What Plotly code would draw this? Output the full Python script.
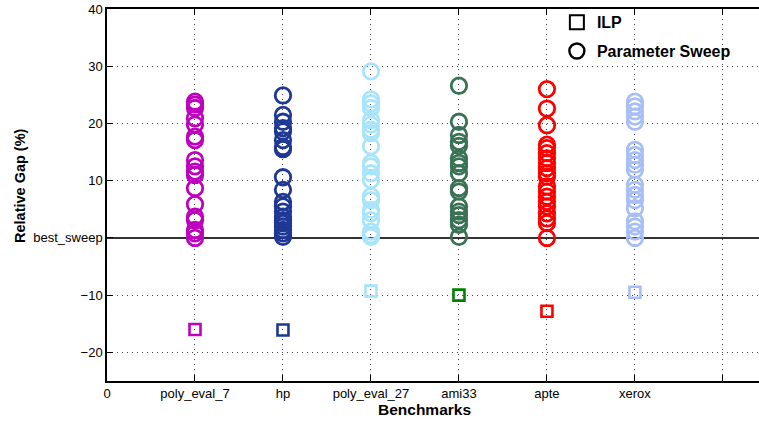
import plotly.graph_objects as go

benchmarks = ["poly_eval_7", "hp", "poly_eval_27", "ami33", "apte", "xerox"]
bench_pos = [1, 2, 3, 4, 5, 6]

sweep_poly_eval_7 = [23.8, 23.3, 22.7, 20.9, 19.8, 17.7, 17.1, 13.6, 12.5, 11.6, 11.0, 8.7, 5.9, 3.7, 3.1, 1.4, 0.8, 0.0]
sweep_hp = [24.9, 21.5, 20.3, 19.2, 18.6, 17.1, 15.9, 15.5, 10.6, 8.4, 6.3, 5.5, 4.6, 3.7, 3.1, 2.6, 2.0, 1.4, 0.8, 0.2]
sweep_poly_eval_27 = [29.1, 24.2, 23.5, 22.7, 20.6, 19.8, 18.9, 18.3, 16.0, 13.1, 12.5, 11.3, 10.1, 7.3, 6.6, 4.9, 4.3, 3.1, 1.1, 0.5, 0.2]
sweep_ami33 = [26.6, 20.3, 18.0, 16.8, 16.1, 13.9, 13.1, 12.5, 11.3, 8.7, 8.1, 5.5, 4.6, 4.0, 3.1, 2.3, 0.2]
sweep_apte = [26.0, 22.6, 19.7, 16.3, 15.7, 14.8, 13.9, 13.1, 12.2, 11.3, 10.7, 9.0, 8.1, 7.2, 6.3, 5.5, 4.3, 3.4, 2.6, 0.0]
sweep_xerox = [23.8, 23.0, 22.1, 21.2, 20.3, 15.4, 14.5, 13.6, 12.8, 11.9, 9.3, 8.4, 7.5, 6.6, 5.2, 2.9, 2.0, 1.1, 0.0]

sweep_values = [sweep_poly_eval_7, sweep_hp, sweep_poly_eval_27, sweep_ami33, sweep_apte, sweep_xerox]
ilp_values = [-16.0, -16.1, -9.3, -10.0, -12.8, -9.5]

sweep_colors = ["#BF00BF", "#1F3894", "#A8E4FA", "#3A7255", "#FF0000", "#A8BFF5"]
ilp_colors = ["#BF00BF", "#1F3894", "#A8E4FA", "#008000", "#FF0000", "#A8BFF5"]

x_tickvals = [0, 1, 2, 3, 4, 5, 6, 7]
x_ticktext = ["0"] + benchmarks + [""]
y_tickvals = [-20, -10, 0, 10, 20, 30, 40]
y_ticktext = ["\u221220", "\u221210", "best_sweep", "10", "20", "30", "40"]

fig = go.Figure()

for pos, vals, col in zip(bench_pos, sweep_values, sweep_colors):
    fig.add_trace(go.Scatter(
        x=[pos] * len(vals), y=vals, mode="markers", showlegend=False,
        marker=dict(symbol="circle-open", size=15.5, color=col, line=dict(width=2.8, color=col)),
    ))
for pos, val, col in zip(bench_pos, ilp_values, ilp_colors):
    fig.add_trace(go.Scatter(
        x=[pos], y=[val], mode="markers", showlegend=False,
        marker=dict(symbol="square-open", size=11, color=col, line=dict(width=2.6, color=col)),
    ))

fig.add_trace(go.Scatter(x=[None], y=[None], mode="markers", name="<b>ILP</b>", legendgroup="a",
                         marker=dict(symbol="square-open", size=14, color="black", line=dict(width=2, color="black"))))
fig.add_trace(go.Scatter(x=[None], y=[None], mode="markers", name="<b>Parameter Sweep</b>", legendgroup="b",
                         marker=dict(symbol="circle-open", size=15, color="black", line=dict(width=2.4, color="black"))))

font = "Liberation Sans, Arial, sans-serif"
fig.update_layout(
    width=759, height=422,
    margin=dict(l=107, r=0, t=9, b=41, autoexpand=False),
    plot_bgcolor="white", paper_bgcolor="white",
    font=dict(family=font, size=13, color="black"),
    showlegend=True,
    legend=dict(x=0.69, y=1.01, xanchor="left", yanchor="top", bgcolor="rgba(0,0,0,0)",
                font=dict(size=16, family=font, color="black"), itemwidth=30, tracegroupgap=5),
    xaxis=dict(
        range=[0, 7.41], tickvals=x_tickvals, ticktext=x_ticktext, automargin=False,
        showgrid=True, gridcolor="#444444", griddash="1px,4px", gridwidth=1,
        showline=True, linecolor="black", linewidth=1.5, mirror="ticks",
        ticks="inside", ticklen=6, tickcolor="black", zeroline=False,
        tickfont=dict(size=13),
    ),
    yaxis=dict(
        range=[-25, 40], tickvals=y_tickvals, ticktext=y_ticktext, automargin=False,
        showgrid=True, gridcolor="#444444", griddash="1px,4px", gridwidth=1,
        showline=True, linecolor="black", linewidth=1.5,
        ticks="inside", ticklen=6, tickcolor="black",
        zeroline=True, zerolinecolor="#333333", zerolinewidth=1.5,
        tickfont=dict(size=13),
    ),
    annotations=[
        dict(text="<b>Benchmarks</b>", xref="paper", yref="paper", x=(424 - 107) / 652, y=-(409 - 381) / 372,
             xanchor="center", yanchor="middle", showarrow=False, font=dict(size=15.5, family=font)),
        dict(text="<b>Relative Gap (%)</b>", xref="paper", yref="paper", x=-(107 - 20) / 652, y=(381 - 186) / 372,
             xanchor="center", yanchor="middle", textangle=-90, showarrow=False, font=dict(size=14.5, family=font)),
    ],
)

fig.write_html("out.html", config={"displayModeBar": False},
               post_script="document.body.style.margin='0px';")
